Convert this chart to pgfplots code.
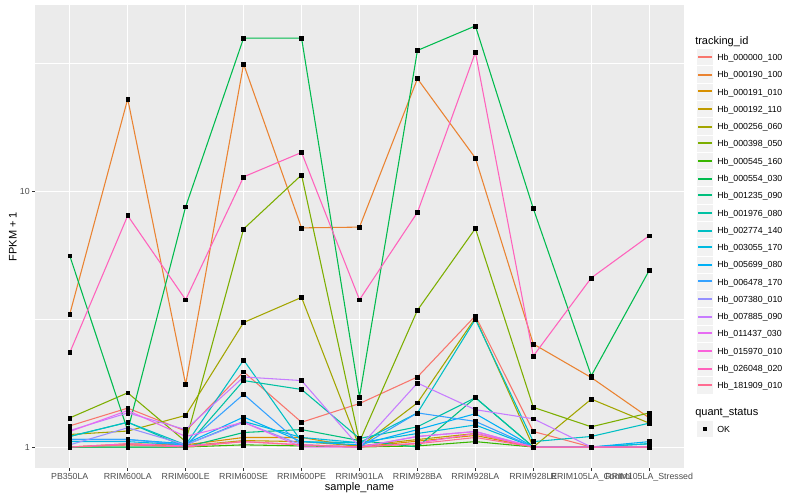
\documentclass[border=0pt]{standalone}
\usepackage{pgfplots}
\pgfplotsset{compat=1.18}
\usepackage{pgfplotstable}
\usepackage{fontspec}
\setmainfont{Liberation Sans}

\definecolor{c1}{HTML}{F8766D}
\definecolor{c2}{HTML}{EA8331}
\definecolor{c3}{HTML}{D89000}
\definecolor{c4}{HTML}{C09B00}
\definecolor{c5}{HTML}{A3A500}
\definecolor{c6}{HTML}{7CAE00}
\definecolor{c7}{HTML}{39B600}
\definecolor{c8}{HTML}{00BB4E}
\definecolor{c9}{HTML}{00BF7D}
\definecolor{c10}{HTML}{00C1A3}
\definecolor{c11}{HTML}{00BFC4}
\definecolor{c12}{HTML}{00BAE0}
\definecolor{c13}{HTML}{00B0F6}
\definecolor{c14}{HTML}{35A2FF}
\definecolor{c15}{HTML}{9590FF}
\definecolor{c16}{HTML}{C77CFF}
\definecolor{c17}{HTML}{E76BF3}
\definecolor{c18}{HTML}{FA62DB}
\definecolor{c19}{HTML}{FF62BC}
\definecolor{c20}{HTML}{FF6C91}
\definecolor{panelgray}{HTML}{EBEBEB}
\definecolor{keybg}{HTML}{F2F2F2}
\definecolor{grey30}{HTML}{4D4D4D}
\definecolor{grey20}{HTML}{333333}

\pgfplotstableread{
x s1 s2 s3 s4 s5 s6 s7 s8 s9 s10 s11 s12 s13 s14 s15 s16 s17 s18 s19 s20
0 1.21 3.31 1.00 1.00 1.12 1.30 1.00 5.60 1.00 1.10 1.10 1.05 1.07 1.07 1.02 1.16 1.15 1.00 2.34 1.00
1 1.42 23.0 1.03 1.02 1.155 1.63 1.00 1.16 1.00 1.25 1.25 1.05 1.07 1.07 1.19 1.36 1.39 1.03 8.04 1.02
2 1.155 1.76 1.02 1.01 1.33 1.05 1.00 8.71 1.00 1.00 1.02 1.02 1.03 1.02 1.02 1.17 1.10 1.01 3.77 1.00
3 1.97 31.5 1.09 1.06 3.07 7.13 1.02 39.8 1.14 1.82 2.19 1.26 1.31 1.61 1.25 1.88 1.25 1.05 11.4 1.05
4 1.25 7.20 1.09 1.05 3.85 11.6 1.01 39.8 1.17 1.68 1.05 1.09 1.05 1.02 1.02 1.82 1.00 1.02 14.2 1.02
5 1.48 7.25 1.00 1.01 1.00 1.05 1.00 1.57 1.06 1.08 1.04 1.04 1.02 1.00 1.00 1.00 1.00 1.00 3.77 1.00
6 1.88 27.6 1.055 1.07 1.49 3.43 1.01 35.6 1.00 1.20 1.36 1.13 1.17 1.36 1.10 1.78 1.10 1.035 8.28 1.03
7 3.26 13.5 1.11 1.13 3.20 7.16 1.05 44.4 1.56 1.56 3.16 1.22 1.35 1.26 1.15 1.40 1.15 1.13 35.0 1.09
8 1.15 2.53 1.00 1.00 1.00 1.43 1.00 8.56 1.00 1.00 1.05 1.00 1.00 1.00 1.00 1.29 1.00 1.00 2.27 1.00
9 1.00 1.87 1.00 1.00 1.54 1.20 1.00 1.90 1.00 1.00 1.10 1.00 1.00 1.00 1.00 1.00 1.00 1.00 4.59 1.00
10 1.00 1.30 1.00 1.00 1.24 1.36 1.00 4.91 1.03 1.00 1.24 1.03 1.05 1.00 1.00 1.00 1.00 1.00 6.71 1.00
}\data

% legend entry: #1 = index (0-based), #2 = colour, #3 = label
\newcommand\legkey[3]{%
  \pgfmathsetmacro{\yc}{57.3+17.28*#1}%
  \pgfmathsetmacro{\yl}{2*round((\yc-1)/2)}%
  \filldraw[fill=keybg, draw=white, line width=0.75pt] (696,\yc-8.64) rectangle (713.28,\yc+8.64);
  \fill[#2] (697.7,\yl) rectangle (711.6,\yl+2);
  \node[anchor=base west, inner sep=0pt, font=\fontsize{6.6}{8}\selectfont] at (717,\yc+3.2) {#3};
}

\begin{document}
\begin{tikzpicture}
\path[use as bounding box] (0,0) rectangle (600pt,375pt);
\begin{axis}[
  at={(26.25pt,24pt)}, anchor=south west,
  scale only axis, width=486.75pt, height=347.25pt,
  xmin=-0.6, xmax=10.6,
  ymode=log, ymin=0.828, ymax=53.6,
  xtick={0,...,10},
  xticklabels={PB350LA,RRIM600LA,RRIM600LE,RRIM600SE,RRIM600PE,RRIM901LA,RRIM928BA,RRIM928LA,RRIM928LE,RRIM105LA\_Control,RRIM105LA\_Stressed},
  ytick={1,10}, yticklabels={1,10},
  minor ytick={3.16228,31.6228},
  grid=both,
  major grid style={white, line width=0.8pt},
  minor grid style={white, line width=0.4pt},
  axis background/.style={fill=panelgray},
  axis line style={draw=none},
  tick pos=left,
  tick align=outside,
  major tick length=2.06pt,
  minor tick length=0pt,
  tick style={color=grey20, line width=0.8pt},
  /pgf/number format/assume math mode=true,
  every tick label/.append style={font=\fontsize{6.6}{7.5}\selectfont, text=grey30, inner sep=0pt},
  xticklabel style={anchor=north, yshift=-1.65pt},
  yticklabel style={anchor=east, xshift=-1.65pt},
]
\pgfplotsinvokeforeach{1,...,20}{
  \addplot[c#1, line width=0.8pt, no markers] table[x=x, y=s#1] {\data};
}
\pgfplotsinvokeforeach{1,...,20}{
  \addplot[only marks, mark=square*, mark size=1.45pt, black] table[x=x, y=s#1] {\data};
}
\end{axis}
\begin{scope}[shift={(0pt,375pt)}, x=0.75pt, y=-0.75pt]
  \node[anchor=base, inner sep=0pt, font=\fontsize{8.25}{10}\selectfont] at (359.5,491) {sample\_name};
  \node[anchor=base, rotate=90, inner sep=0pt, font=\fontsize{8.25}{10}\selectfont] at (16.7,236.5) {FPKM + 1};
  \node[anchor=base west, inner sep=0pt, font=\fontsize{8.25}{10}\selectfont] at (695,44.5) {tracking\_id};
  \legkey{0}{c1}{Hb\_000000\_100}
  \legkey{1}{c2}{Hb\_000190\_100}
  \legkey{2}{c3}{Hb\_000191\_010}
  \legkey{3}{c4}{Hb\_000192\_110}
  \legkey{4}{c5}{Hb\_000256\_060}
  \legkey{5}{c6}{Hb\_000398\_050}
  \legkey{6}{c7}{Hb\_000545\_160}
  \legkey{7}{c8}{Hb\_000554\_030}
  \legkey{8}{c9}{Hb\_001235\_090}
  \legkey{9}{c10}{Hb\_001976\_080}
  \legkey{10}{c11}{Hb\_002774\_140}
  \legkey{11}{c12}{Hb\_003055\_170}
  \legkey{12}{c13}{Hb\_005699\_080}
  \legkey{13}{c14}{Hb\_006478\_170}
  \legkey{14}{c15}{Hb\_007380\_010}
  \legkey{15}{c16}{Hb\_007885\_090}
  \legkey{16}{c17}{Hb\_011437\_030}
  \legkey{17}{c18}{Hb\_015970\_010}
  \legkey{18}{c19}{Hb\_026048\_020}
  \legkey{19}{c20}{Hb\_181909\_010}
  \node[anchor=base west, inner sep=0pt, font=\fontsize{8.25}{10}\selectfont] at (695,415.5) {quant\_status};
  \filldraw[fill=keybg, draw=white, line width=0.75pt] (696,429-8.64) rectangle (713.28,429+8.64);
  \fill[black] (704.64-2,429-2) rectangle (704.64+2,429+2);
  \node[anchor=base west, inner sep=0pt, font=\fontsize{6.6}{8}\selectfont] at (717,432.2) {OK};
\end{scope}
\end{tikzpicture}
\end{document}
